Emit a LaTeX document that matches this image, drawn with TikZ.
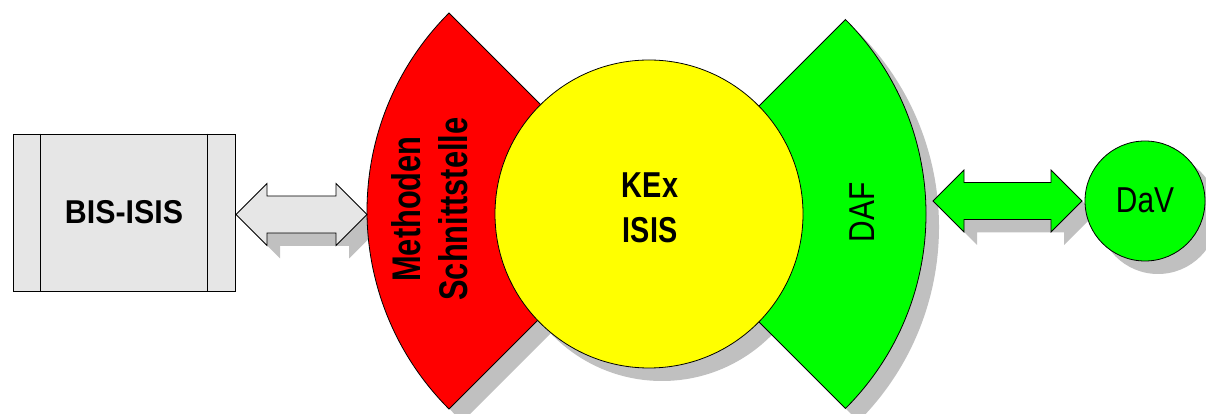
\documentclass[tikz,border=0pt]{standalone}
\usepackage{fontspec}
\setmainfont{Liberation Sans}
\newfontfamily\boxfont[FakeStretch=0.92]{Liberation Sans}
\newfontfamily\corefont[FakeStretch=0.80]{Liberation Sans}
\newfontfamily\sidefont[FakeStretch=0.77]{Liberation Sans}
\newfontfamily\tagfont[FakeStretch=0.83]{Liberation Sans}
\usetikzlibrary{calc}

\definecolor{shadowgray}{RGB}{192,192,192}
\definecolor{panelgray}{RGB}{230,230,230}
\definecolor{methred}{RGB}{255,0,0}
\definecolor{coreyellow}{RGB}{255,255,0}
\definecolor{dafgreen}{RGB}{0,255,0}

% outline of a two-headed block arrow between two tips at height #3
\newcommand\twinarrow[3]{%
  (#1,#3) -- ++(31,31) -- ++(0,-12.5) -- ($(#2,#3)+(-31,18.5)$) -- ++(0,12.5)
  -- (#2,#3) -- ++(-31,-31) -- ++(0,12.5) -- ($(#1,#3)+(31,-18.5)$)
  -- ++(0,-12.5) -- cycle}
% annular sector: centre #1, from angle #2 to #3, outer radius #4, inner radius #5
\newcommand\ringsector[5]{%
  ($#1+(#2:#4)$) arc[start angle=#2, end angle=#3, radius=#4]
  -- ($#1+(#3:#5)$) arc[start angle=#3, end angle=#2, radius=#5] -- cycle}

\begin{document}
\begin{tikzpicture}[x=1pt,y=1pt,
  outline/.style={draw=black, line width=0.8pt},
  shade/.style={fill=shadowgray, shift={(13,-13)}},
  txt/.style={inner sep=0pt, align=center}]
\useasboundingbox (0,0) rectangle (1206,414);

% drop shadows, all lying below the shapes
\fill[shade] \ringsector{(647,203)}{135}{225}{280}{150};
\fill[shade] \ringsector{(651,200)}{-45}{45}{275}{150};
\fill[shade] (649,200) circle[radius=154];
\fill[shade] \twinarrow{236}{367}{199.5};
\fill[shade] \twinarrow{933}{1082}{213};
\fill[shade] (1145,213) circle[radius=60];

% BIS-ISIS block
\node[outline, fill=panelgray, rectangle, minimum width=222, minimum height=157,
      inner sep=0pt, font=\boxfont\bfseries\fontsize{33}{38}\selectfont]
      (bis) at (124,201.5) {\raisebox{1pt}{BIS-ISIS}};
\draw[line width=0.8pt] ([xshift=28]bis.north west) -- ([xshift=28]bis.south west);
\draw[line width=0.8pt] ([xshift=-28]bis.north east) -- ([xshift=-28]bis.south east);

% interface sectors and the core
\draw[outline, fill=methred] \ringsector{(647,203)}{135}{225}{280}{150};
\draw[outline, fill=dafgreen] \ringsector{(651,200)}{-45}{45}{275}{150};
\node[outline, fill=coreyellow, circle, minimum size=308, inner sep=0pt] (kex) at (649,200) {};

% connecting block arrows
\coordinate (la) at (236,199.5);
\coordinate (lb) at (367,199.5);
\coordinate (ra) at (933,213);
\coordinate (rb) at (1082,213);
\draw[outline, fill=panelgray] \twinarrow{236}{367}{199.5};
\draw[outline, fill=dafgreen] \twinarrow{933}{1082}{213};

% DaV
\node[outline, fill=dafgreen, circle, minimum size=120, inner sep=0pt,
      font=\tagfont\fontsize{36}{40}\selectfont] (dav) at (1145,213) {\raisebox{2pt}{DaV}};

% labels
\node[txt, font=\corefont\bfseries\fontsize{36}{45}\selectfont] (kexlabel) at (650,206) {KEx\\ISIS};
\node[txt, rotate=90, font=\sidefont\bfseries\fontsize{40}{47}\selectfont] (methlabel) at (430,205) {Methoden\\Schnittstelle};
\node[txt, rotate=90, font=\tagfont\fontsize{36}{40}\selectfont] (daflabel) at (862.5,201.5) {DAF};
\end{tikzpicture}
\end{document}
